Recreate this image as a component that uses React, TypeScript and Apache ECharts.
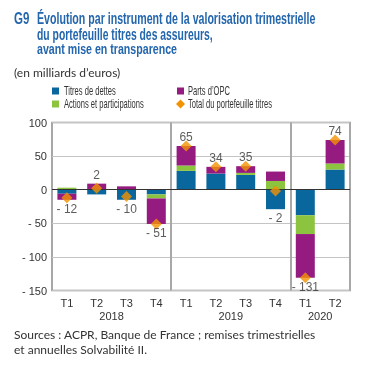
import React, { useEffect, useRef } from "react";
import * as echarts from "echarts";

const categories = ["T1", "T2", "T3", "T4", "T1", "T2", "T3", "T4", "T1", "T2"];
const years = ["2018", "2019", "2020"];
const yearCenters = [2, 6, 9];
const debt = [-6, -7, -15, -7, 28, 24, 22, -29, -38, 30];
const equity = [3, 0, 0, -6, 8, 0, 3, 13, -28, 9];
const opc = [-9, 9, 5, -38, 29, 10, 10, 14, -65, 35];
const total = [-12, 2, -10, -51, 65, 34, 35, -2, -131, 74];

const seriesNames = ["Titres de dettes", "Actions et participations", "Parts d’OPC", "Total du portefeuille titres"];

const SANS = '"Liberation Sans", Arial, sans-serif';
const BLUE = "#0a679e";
const GREEN = "#8cc43f";
const PURPLE = "#951b81";
const ORANGE = "#f39200";
const TITLE = "#2466ad";

const fmt = (v: number) => (v < 0 ? "- " + Math.abs(v) : String(v));

function txt(text: string, x: number, y: number, size: number, sx: number, opts: any = {}) {
  return {
    type: "text",
    x,
    y,
    scaleX: sx,
    silent: true,
    style: {
      text,
      fontFamily: opts.family || SANS,
      fontWeight: opts.bold ? "bold" : "normal",
      fontSize: size,
      fill: opts.color || "#333",
      verticalAlign: "middle",
      align: "left",
    },
  };
}

export default function App() {
  const ref = useRef<HTMLDivElement>(null);
  useEffect(() => {
    if (!ref.current) return;
    const chart = echarts.init(ref.current, null, { renderer: "svg" });
    const anchors = total.map((t, i) => {
      const vals = [debt[i], equity[i], opc[i]];
      const pos = vals.filter((v) => v > 0).reduce((a, b) => a + b, 0);
      const neg = vals.filter((v) => v < 0).reduce((a, b) => a + b, 0);
      return t >= 0
        ? { value: [i, pos], label: { position: "top", formatter: fmt(t) } }
        : { value: [i, neg], label: { position: "bottom", formatter: fmt(t) } };
    });
    const legendGraphics = [
      { type: "rect", x: 52, y: 87.5, shape: { width: 7, height: 7 }, style: { fill: BLUE }, silent: true },
      txt(seriesNames[0], 64, 91, 12, 0.63),
      { type: "rect", x: 52, y: 100.5, shape: { width: 7, height: 7 }, style: { fill: GREEN }, silent: true },
      txt(seriesNames[1], 64, 104, 12, 0.63),
      { type: "rect", x: 177, y: 87.5, shape: { width: 7, height: 7 }, style: { fill: PURPLE }, silent: true },
      txt(seriesNames[2], 188, 91, 12, 0.63),
      {
        type: "polygon",
        shape: { points: [[180.5, 99.5], [185, 104], [180.5, 108.5], [176, 104]] },
        style: { fill: ORANGE },
        silent: true,
      },
      txt(seriesNames[3], 188, 104, 12, 0.63),
    ];
    chart.setOption({
      animation: false,
      graphic: [
        txt("G9", 14, 18, 17, 0.68, { bold: true, color: TITLE }),
        txt("Évolution par instrument de la valorisation trimestrielle", 37, 18, 17, 0.625, { bold: true, color: TITLE }),
        txt("du portefeuille titres des assureurs,", 37, 34, 17, 0.61, { bold: true, color: TITLE }),
        txt("avant mise en transparence", 37, 49.5, 14, 0.76, { bold: true, color: TITLE }),
        txt("(en milliards d’euros)", 14, 72, 12, 1, { family: "Lato, sans-serif" }),
        ...legendGraphics,
        txt("Sources : ACPR, Banque de France ; remises trimestrielles", 14, 334, 12, 1, { family: "Lato, sans-serif" }),
        txt("et annuelles Solvabilité II.", 14, 349, 12, 1, { family: "Lato, sans-serif" }),
      ],
      grid: { left: 52, right: 25, top: 122.5, bottom: 80.5, show: true, borderColor: "#8a8a8a", borderWidth: 1.5, containLabel: false },
      xAxis: [
        {
          type: "category",
          data: categories,
          axisLine: { show: false },
          axisTick: { show: false },
          axisLabel: { color: "#333", fontFamily: SANS, fontSize: 11, margin: 7 },
          splitLine: {
            show: true,
            interval: (i: number) => i === 4 || i === 8,
            lineStyle: { color: "#a8a8a8", width: 2 },
          },
        },
        {
          type: "value",
          min: 0,
          max: 10,
          position: "bottom",
          offset: 13,
          axisLine: { show: false },
          axisTick: { show: false },
          splitLine: { show: false },
          axisLabel: {
            customValues: yearCenters,
            formatter: (v: number) => years[yearCenters.indexOf(v)] ?? "",
            color: "#333",
            fontFamily: SANS,
            fontSize: 11,
            margin: 7,
          },
        },
      ],
      yAxis: {
        type: "value",
        min: -150,
        max: 100,
        interval: 50,
        axisLine: { show: false },
        axisTick: { show: false },
        axisLabel: { color: "#333", fontFamily: SANS, fontSize: 11, margin: 5, formatter: fmt },
        splitLine: { lineStyle: { color: "#c4c4c4", width: 1 } },
      },
      series: [
        {
          name: seriesNames[0],
          type: "bar",
          stack: "s",
          barWidth: 19,
          data: debt,
          itemStyle: { color: BLUE },
          markLine: {
            silent: true,
            symbol: "none",
            label: { show: false },
            lineStyle: { color: "#333", type: "solid", width: 1.2 },
            data: [{ yAxis: 0 }],
          },
        },
        { name: seriesNames[1], type: "bar", stack: "s", barWidth: 19, data: equity, itemStyle: { color: GREEN } },
        { name: seriesNames[2], type: "bar", stack: "s", barWidth: 19, data: opc, itemStyle: { color: PURPLE } },
        {
          name: seriesNames[3],
          type: "scatter",
          symbol: "diamond",
          symbolSize: 11,
          data: total,
          itemStyle: { color: ORANGE },
          z: 5,
        },
        {
          name: "labels",
          type: "scatter",
          symbolSize: 0,
          data: anchors,
          silent: true,
          z: 6,
          label: { show: true, color: "#333", fontFamily: SANS, fontSize: 12, distance: 3 },
        },
      ],
    });
    return () => chart.dispose();
  }, []);
  return <div ref={ref} style={{ position: "fixed", left: 0, top: 0, width: 375, height: 371 }} />;
}
